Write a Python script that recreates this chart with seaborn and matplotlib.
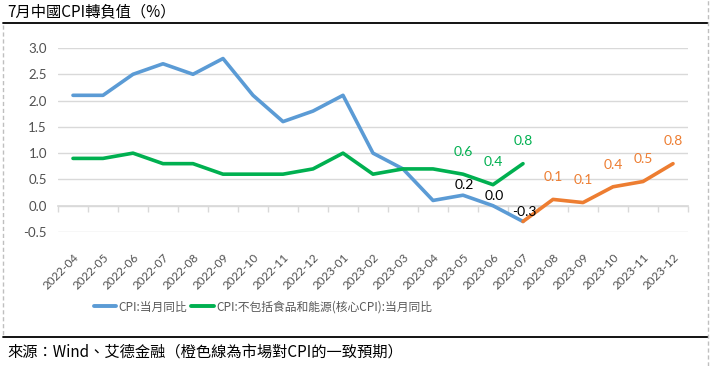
import numpy as np
import pandas as pd
import matplotlib
matplotlib.use("Agg")
import matplotlib.pyplot as plt
from matplotlib.lines import Line2D
import seaborn as sns

months = ["2022-04", "2022-05", "2022-06", "2022-07", "2022-08", "2022-09",
          "2022-10", "2022-11", "2022-12", "2023-01", "2023-02", "2023-03",
          "2023-04", "2023-05", "2023-06", "2023-07", "2023-08", "2023-09",
          "2023-10", "2023-11", "2023-12"]

cpi = [2.1, 2.1, 2.5, 2.7, 2.5, 2.8, 2.1, 1.6, 1.8, 2.1, 1.0, 0.7,
       0.1, 0.2, 0.0, -0.3]
core_cpi = [0.9, 0.9, 1.0, 0.8, 0.8, 0.6, 0.6, 0.6, 0.7, 1.0, 0.6, 0.7,
            0.7, 0.6, 0.4, 0.8]
forecast_months = ["2023-07", "2023-08", "2023-09", "2023-10", "2023-11", "2023-12"]
forecast = [-0.3, 0.12, 0.06, 0.36, 0.46, 0.8]

BLUE = "#5B9BD5"
GREEN = "#00B050"
ORANGE = "#ED7D31"
GRID = "#D9D9D9"
TXT = "#595959"

sns.set_theme(style="white")
plt.rcParams["font.family"] = ["Lato", "Noto Sans CJK TC", "DejaVu Sans"]
CJK = ["Noto Sans CJK TC", "DejaVu Sans"]

pos = {m: i for i, m in enumerate(months)}
df_cpi = pd.DataFrame({"x": [pos[m] for m in months[:len(cpi)]], "y": cpi})
df_core = pd.DataFrame({"x": [pos[m] for m in months[:len(core_cpi)]], "y": core_cpi})
df_fc = pd.DataFrame({"x": [pos[m] for m in forecast_months], "y": forecast})

fig = plt.figure(figsize=(7.1, 3.66), dpi=100)
ax = fig.add_axes([58 / 710, 1 - 232 / 366, 630 / 710, 184 / 366])

sns.lineplot(data=df_cpi, x="x", y="y", ax=ax, color=BLUE, lw=2.6)
sns.lineplot(data=df_core, x="x", y="y", ax=ax, color=GREEN, lw=2.6)
sns.lineplot(data=df_fc, x="x", y="y", ax=ax, color=ORANGE, lw=2.6)

ax.set_xlim(-0.5, len(months) - 0.5)
ax.set_ylim(-0.5, 3.0)
ax.set_yticks(np.arange(-0.5, 3.01, 0.5))
ax.set_yticklabels([f"{v:.1f}" for v in np.arange(-0.5, 3.01, 0.5)])
ax.yaxis.grid(True, color=GRID, lw=1)
ax.set_axisbelow(True)
for s in ax.spines.values():
    s.set_visible(False)
ax.set_xlabel("")
ax.set_ylabel("")
ax.set_xticks(range(len(months)))
ax.set_xticklabels(months, rotation=45, ha="right", rotation_mode="anchor")
ax.tick_params(axis="x", length=0, pad=14, labelsize=8.5, labelcolor="#505050")
ax.tick_params(axis="y", length=0, pad=8, labelsize=9.5, labelcolor="#505050")

# zero axis line with category tick marks
sec = ax.secondary_xaxis(0.5 / 3.5)
sec.set_xticks(np.arange(-0.5, len(months), 1))
sec.tick_params(axis="x", length=4, color=GRID, labelbottom=False, width=1)
sec.spines["bottom"].set_color(GRID)

# data labels
for i in range(13, 16):
    ax.annotate(f"{cpi[i]:.1f}", (i, cpi[i]), xytext=(1, 7), textcoords="offset points",
                ha="center", va="center", fontsize=10, color="black")
for i in range(13, 16):
    ax.annotate(f"{core_cpi[i]:.1f}", (i, core_cpi[i]), xytext=(0, 16), textcoords="offset points",
                ha="center", va="center", fontsize=10, color=GREEN)
for m, v in zip(forecast_months[1:], forecast[1:]):
    ax.annotate(f"{v:.1f}", (pos[m], v), xytext=(0, 16), textcoords="offset points",
                ha="center", va="center", fontsize=10, color=ORANGE)

handles = [Line2D([], [], color=BLUE, lw=2.8), Line2D([], [], color=GREEN, lw=2.8)]
leg = ax.legend(handles, ["CPI:当月同比", "CPI:不包括食品和能源(核心CPI):当月同比"],
                loc="center", bbox_to_anchor=(263 / 710, 1 - 307 / 366),
                bbox_transform=fig.transFigure, ncol=2, frameon=False,
                handlelength=1.9, handletextpad=0.2, columnspacing=0.3,
                prop={"family": CJK, "size": 8.5})
for t in leg.get_texts():
    t.set_color(TXT)

# header / footer decoration
fig.text(7 / 710, 1 - 12 / 366, "7月中國CPI轉負值（%）", fontsize=11, family=CJK,
         va="center", ha="left", color="black")
fig.text(7 / 710, 1 - 352 / 366, "來源：Wind、艾德金融（橙色線為市場對CPI的一致預期）",
         fontsize=11, family=CJK, va="center", ha="left", color="black")
fig.add_artist(Line2D([3 / 710, 708 / 710], [1 - 23 / 366] * 2, color="black", lw=1.3))
fig.add_artist(Line2D([3 / 710, 708 / 710], [1 - 337 / 366] * 2, color="black", lw=1.3))
fig.add_artist(Line2D([3 / 710, 3 / 710], [1 - 25 / 366, 1 - 337 / 366], color="#BFBFBF",
                      lw=1, ls=(0, (3, 2))))
fig.add_artist(Line2D([707.5 / 710, 707.5 / 710], [0, 1], color="#BFBFBF", lw=1, ls=(0, (3, 2))))

fig.savefig("out.png", dpi=100)
